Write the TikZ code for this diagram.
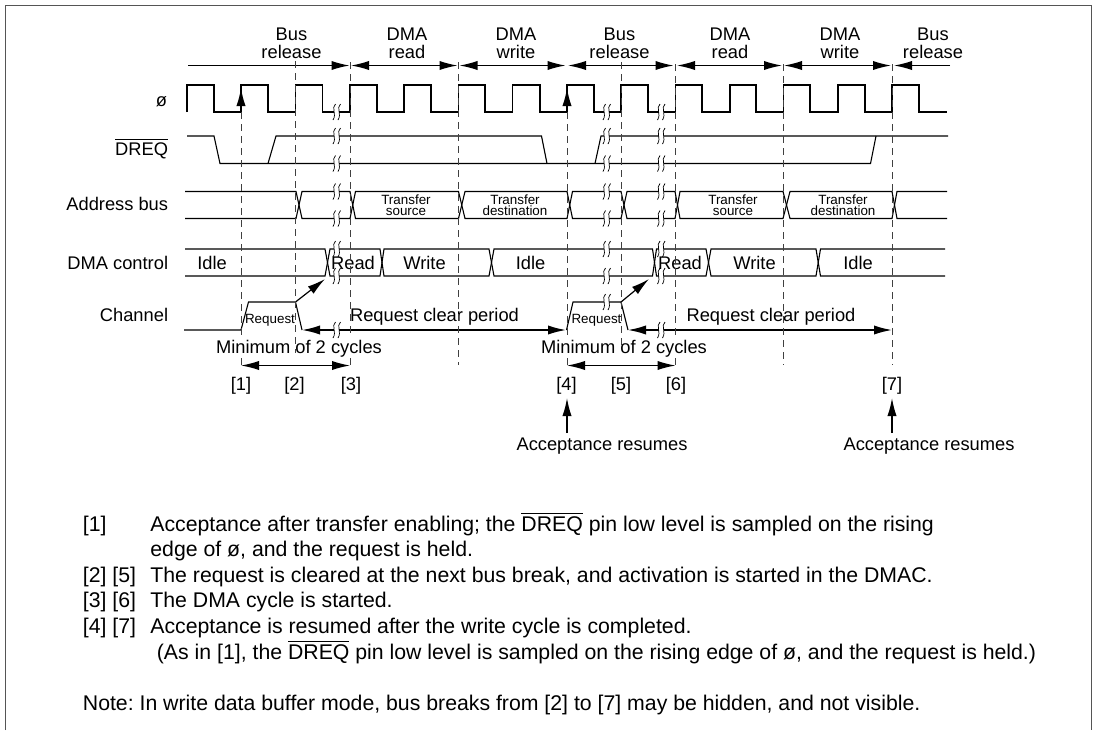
\documentclass[tikz,border=0pt]{standalone}
\usepackage{fontspec}
\setmainfont{Liberation Sans}
\usetikzlibrary{arrows.meta}
\definecolor{framegray}{HTML}{555555}
\frenchspacing
\tikzset{
  txt/.style={font=\fontsize{9.15pt}{9pt}\selectfont,inner sep=0pt,align=center,anchor=base},
  tiny/.style={font=\fontsize{6.7pt}{5.35pt}\selectfont,inner sep=0pt,align=center,anchor=base},
  note/.style={font=\fontsize{10.63pt}{12pt}\selectfont,inner sep=0pt,anchor=base west},
  sig/.style={line width=0.55pt,line join=miter},
  guide/.style={line width=0.5pt,dash pattern=on 3.5pt off 2.5pt,color=black!75},
  tip/.style={line width=0.6pt,-{Latex[length=9pt,width=4.6pt]}},
  tips/.style={line width=0.6pt,{Latex[length=9pt,width=4.6pt]}-{Latex[length=9pt,width=4.6pt]}},
  pics/gap/.style={code={
    \fill[white] (-3,-2) rectangle (2,2);
    \draw[line width=0.35pt] (-1.5,-8) .. controls (-6,-4) and (0,2) .. (-4,8);
    \draw[line width=0.35pt] (3.5,-8) .. controls (-1,-4) and (5,2) .. (1,8);
  }}
}
\begin{document}
\begin{tikzpicture}[x=0.5pt,y=-0.5pt]
        \useasboundingbox (0,0) rectangle (1098,730);
        % frame
        \draw [line width=0.8pt,framegray] (5.5,730) -- (5.5,5.5) -- (1091.5,5.5) -- (1091.5,730);
        % phases
        \node [txt] (ph1) at (291.5,58.3) {Bus\\release};
        \node [txt] (ph2) at (407,58.3) {DMA\\read};
        \node [txt] (ph3) at (516,58.3) {DMA\\write};
        \node [txt] (ph4) at (619.5,58.3) {Bus\\release};
        \node [txt] (ph5) at (730,58.3) {DMA\\read};
        \node [txt] (ph6) at (840,58.3) {DMA\\write};
        \node [txt] (ph7) at (933,58.3) {Bus\\release};
        \draw [tip] (188,65.5) -- (349.5,65.5);
        \draw [tips] (351,65.5) -- (457.5,65.5);
        \draw [tips] (459.5,65.5) -- (565.5,65.5);
        \draw [tips] (568,65.5) -- (673.5,65.5);
        \draw [tips] (677,65.5) -- (782,65.5);
        \draw [tips] (784,65.5) -- (891,65.5);
        \draw [tip] (950,65.5) -- (894,65.5);
        % signal names
        \node [txt,anchor=base east] (nclk) at (167.5,106.7) {ø};
        \node [txt,anchor=base east] (ndreq) at (168.5,155) {$\overline{\mbox{DREQ}}$};
        \node [txt,anchor=base east] (naddr) at (168.5,210.7) {Address bus};
        \node [txt,anchor=base east] (nctrl) at (168.5,269) {DMA control};
        \node [txt,anchor=base east] (nchan) at (168.5,321) {Channel};
        % clock
        \draw [sig] (187,112) -- (187,85) -- (214,85) -- (214,112) -- (241,112) -- (241,85) -- (268,85) -- (268,112)
            -- (295.5,112) -- (295.5,85) -- (322.5,85) -- (322.5,112) -- (350,112) -- (350,85) -- (377,85) -- (377,112)
            -- (404,112) -- (404,85) -- (431,85) -- (431,112) -- (458.5,112) -- (458.5,85) -- (485,85) -- (485,112)
            -- (512.5,112) -- (512.5,85) -- (540,85) -- (540,112) -- (567,112) -- (567,85) -- (594,85) -- (594,112)
            -- (621,112) -- (621,85) -- (648,85) -- (648,112) -- (675.5,112) -- (675.5,85) -- (702,85) -- (702,112)
            -- (730,112) -- (730,85) -- (756,85) -- (756,112) -- (783.5,112) -- (783.5,85) -- (810,85) -- (810,112)
            -- (838,112) -- (838,85) -- (865,85) -- (865,112) -- (892,112) -- (892,85) -- (919,85) -- (919,112) -- (947,112);
        % dreq
        \draw [sig] (187,136) -- (214,136) -- (220,163.5) -- (870.5,163.5) -- (876,136);
        \draw [sig] (268,163.5) -- (276,136) -- (541.5,136) -- (547,163.5);
        \draw [sig] (595,163.5) -- (601,136) -- (948,136);
        % address bus
        \draw [sig] (185,191.5) -- (296,191.5) -- (302,218.5) -- (350,218.5) -- (355.5,191.5) -- (458.5,191.5) -- (465,218.5) -- (567,218.5)
            -- (572.5,191.5) -- (621,191.5) -- (627,218.5) -- (675,218.5) -- (680,191.5) -- (783,191.5) -- (790,218.5) -- (892,218.5) -- (897,191.5) -- (947,191.5);
        \draw [sig] (185,218.5) -- (296,218.5) -- (302,191.5) -- (350,191.5) -- (355.5,218.5) -- (458.5,218.5) -- (465,191.5) -- (567,191.5)
            -- (572.5,218.5) -- (621,218.5) -- (627,191.5) -- (675,191.5) -- (680,218.5) -- (783,218.5) -- (790,191.5) -- (892,191.5) -- (897,218.5) -- (947,218.5);
        \node [tiny] (tr1) at (406,215) {Transfer\\source};
        \node [tiny] (tr2) at (515,215) {Transfer\\destination};
        \node [tiny] (tr3) at (733,215) {Transfer\\source};
        \node [tiny] (tr4) at (843,215) {Transfer\\destination};
        % dma control
        \draw [sig] (185,249) -- (325,249) -- (330,276) -- (380,276) -- (384,249) -- (489,249) -- (494,276) -- (652.5,276) -- (656.5,249) -- (706,249) -- (711,276) -- (816,276) -- (820.5,249) -- (945,249);
        \draw [sig] (185,276) -- (325,276) -- (330,249) -- (380,249) -- (384,276) -- (489,276) -- (494,249) -- (652.5,249) -- (656.5,276) -- (706,276) -- (711,249) -- (816,249) -- (820.5,276) -- (945,276);
        \node [txt] (idle1) at (212,269) {Idle};
        \node [txt] (read1) at (353,269) {Read};
        \node [txt] (write1) at (424.5,269) {Write};
        \node [txt] (idle2) at (530.5,269) {Idle};
        \node [txt] (read2) at (680,269) {Read};
        \node [txt] (write2) at (754.5,269) {Write};
        \node [txt] (idle3) at (858,269) {Idle};
        % channel
        \draw [sig] (184,330) -- (241,330) -- (248.5,302) -- (295.5,302) -- (302,330);
        \draw [sig] (566.5,330) -- (573,302) -- (621,302) -- (628,330);
        \node [tiny] (rq1) at (270,323) {Request};
        \node [tiny] (rq2) at (596.5,323) {Request};
        \draw [tip] (295.5,302) -- (325,279);
        \draw [tip] (621,302) -- (649,279);
        \draw [tips,line width=0.75pt] (302,330) -- (566,330);
        \draw [tips,line width=0.75pt] (628,330) -- (892,330);
        \node [txt] (clr1) at (434.5,321) {Request clear period};
        \node [txt] (clr2) at (771,321) {Request clear period};
        % guides
        \draw [guide] (241,112) -- (241,335);\draw [guide] (241,358) -- (241,368);
        \draw [guide] (295.5,61) -- (295.5,353);
        \draw [guide] (350,62) -- (350,335);\draw [guide] (350,358) -- (350,365);
        \draw [guide] (458.5,62) -- (458.5,365);
        \draw [guide] (567,112) -- (567,335);\draw [guide] (567,358) -- (567,365);
        \draw [guide] (621,62) -- (621,347);
        \draw [guide] (675.5,64) -- (675.5,335);\draw [guide] (675.5,358) -- (675.5,368);
        \draw [guide] (783.5,64) -- (783.5,365);
        \draw [guide] (892,64) -- (892,365);
        \draw [tip,line width=0.7pt] (241,112) -- (241,88);
        \draw [tip,line width=0.7pt] (567,112) -- (567,88);
        % breaks
        \foreach \y in {112,136,163.5,191.5,218.5,249,276,330} \pic at (337,\y) {gap};
        \foreach \y in {112,136,163.5,191.5,218.5,249,276,302} \pic at (607,\y) {gap};
        \foreach \y in {112,136,163.5,191.5,218.5,249,276,330} \pic at (661.5,\y) {gap};
        % minimum cycles
        \node [txt] (min1) at (299,353) {Minimum of 2 cycles};
        \node [txt] (min2) at (624,353) {Minimum of 2 cycles};
        \draw [tips] (241,365.5) -- (350,365.5);
        \draw [tips] (567,365.5) -- (675.5,365.5);
        % points
        \node [txt] (p1) at (241,390) {[1]};
        \node [txt] (p2) at (294.5,390) {[2]};
        \node [txt] (p3) at (351,390) {[3]};
        \node [txt] (p4) at (566.5,390) {[4]};
        \node [txt] (p5) at (621,390) {[5]};
        \node [txt] (p6) at (676,390) {[6]};
        \node [txt] (p7) at (892,390) {[7]};
        \node [txt] (acc1) at (602,450.7) {Acceptance resumes};
        \node [txt] (acc2) at (929,450.7) {Acceptance resumes};
        \draw [tip,line width=0.7pt] (567,433) -- (567,398);
        \draw [tip,line width=0.7pt] (892,433) -- (892,398);
        % notes
        \node [note] (n1) at (82.5,531) {[1]};
        \node [note] (t1) at (150,531) {Acceptance after transfer enabling; the $\overline{\mbox{DREQ}}$ pin low level is sampled on the rising};
        \node [note] (t1b) at (150,556) {edge of ø, and the request is held.};
        \node [note] (n2) at (82.5,582) {[2] [5]};
        \node [note] (t2) at (150,582) {The request is cleared at the next bus break, and activation is started in the DMAC.};
        \node [note] (n3) at (82.5,607.5) {[3] [6]};
        \node [note] (t3) at (150,607.5) {The DMA cycle is started.};
        \node [note] (n4) at (82.5,633) {[4] [7]};
        \node [note] (t4) at (150,633) {Acceptance is resumed after the write cycle is completed.};
        \node [note] (t4b) at (156.5,659.5) {(As in [1], the $\overline{\mbox{DREQ}}$ pin low level is sampled on the rising edge of ø, and the request is held.)};
        \node [note] (nt) at (82.5,710) {Note: In write data buffer mode, bus breaks from [2] to [7] may be hidden, and not visible.};
    \end{tikzpicture}
\end{document}
